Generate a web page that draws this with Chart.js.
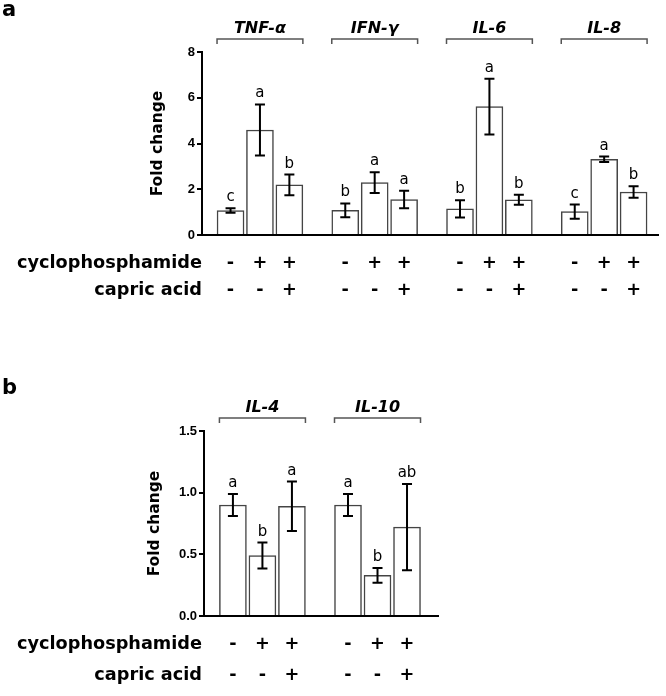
<!DOCTYPE html>
<html>
<head>
<meta charset="utf-8">
<script src="https://cdn.jsdelivr.net/npm/chart.js@4.4.1/dist/chart.umd.min.js"></script>
<style>
  html, body { margin: 0; padding: 0; background: #fff; }
  #wrapA { position: absolute; left: 0; top: 0; width: 666px; height: 330px; }
  #wrapB { position: absolute; left: 0; top: 330px; width: 666px; height: 366px; }
</style>
</head>
<body>
<div id="wrapA"><canvas id="chartA"></canvas></div>
<div id="wrapB"><canvas id="chartB"></canvas></div>
<script>
// ==========================================
// DATA - panel a (pro-inflammatory)
// ==========================================
const genesA = ['TNF-α', 'IFN-γ', 'IL-6', 'IL-8'];
const meansA = [1.07, 4.59, 2.19, 1.08, 2.29, 1.55, 1.14, 5.61, 1.54, 1.02, 3.31, 1.88];
const errA = [0.10, 1.12, 0.45, 0.30, 0.45, 0.38, 0.38, 1.22, 0.22, 0.31, 0.12, 0.25];
const lettersA = ['c', 'a', 'b', 'b', 'a', 'a', 'b', 'a', 'b', 'c', 'a', 'b'];
const ticksA = [0, 2, 4, 6, 8];

// DATA - panel b (anti-inflammatory)
const genesB = ['IL-4', 'IL-10'];
const meansB = [0.90, 0.49, 0.89, 0.90, 0.33, 0.72];
const errB = [0.09, 0.105, 0.20, 0.09, 0.06, 0.35];
const lettersB = ['a', 'b', 'a', 'a', 'b', 'ab'];
const ticksB = [0.0, 0.5, 1.0, 1.5];

// treatment rows under each group
const rowNames = ['cyclophosphamide', 'capric acid'];
const cyclo = ['-', '+', '+'];
const capric = ['-', '-', '+'];

const FONT = '"DejaVu Sans", sans-serif';
const GROUP_STEP = 3.9; // distance between groups, in bar widths

// ==========================================
// PLUGIN: error bars, letters, brackets, treatment rows
// ==========================================
const extrasPlugin = {
    id: 'extras',
    afterDatasetsDraw(chart) {
        const cfg = chart.options.plugins.extras;
        const ctx = chart.ctx;
        const yScale = chart.scales.y;
        const bars = chart.getDatasetMeta(0).data;

        ctx.save();
        ctx.strokeStyle = '#000';
        ctx.lineWidth = 2;
        bars.forEach((bar, k) => {
            const yTop = yScale.getPixelForValue(cfg.means[k] + cfg.errs[k]);
            const yBot = yScale.getPixelForValue(cfg.means[k] - cfg.errs[k]);
            ctx.beginPath();
            ctx.moveTo(bar.x, yTop); ctx.lineTo(bar.x, yBot);
            ctx.moveTo(bar.x - 5, yTop); ctx.lineTo(bar.x + 5, yTop);
            ctx.moveTo(bar.x - 5, yBot); ctx.lineTo(bar.x + 5, yBot);
            ctx.stroke();

            ctx.fillStyle = '#000';
            ctx.font = '15px ' + FONT;
            ctx.textAlign = 'center';
            ctx.textBaseline = 'alphabetic';
            ctx.fillText(cfg.letters[k], bar.x, yTop - 7);
        });
        ctx.restore();
    },
    afterDraw(chart) {
        const cfg = chart.options.plugins.extras;
        const ctx = chart.ctx;
        const area = chart.chartArea;
        const bars = chart.getDatasetMeta(0).data;

        ctx.save();
        // panel letter
        ctx.fillStyle = '#000';
        ctx.font = 'bold 21px ' + FONT;
        ctx.textAlign = 'left';
        ctx.textBaseline = 'alphabetic';
        ctx.fillText(cfg.panel, 2, cfg.panelY);

        // brackets + gene names
        const by = area.top - 13;
        cfg.genes.forEach((g, gi) => {
            const b0 = bars[gi * 3], b2 = bars[gi * 3 + 2];
            const l = b0.x - b0.width / 2, r = b2.x + b2.width / 2;
            ctx.strokeStyle = '#555';
            ctx.lineWidth = 1.5;
            ctx.beginPath();
            ctx.moveTo(l, by + 5); ctx.lineTo(l, by); ctx.lineTo(r, by); ctx.lineTo(r, by + 5);
            ctx.stroke();

            ctx.fillStyle = '#000';
            ctx.font = 'italic bold 16px ' + FONT;
            ctx.textAlign = 'center';
            ctx.fillText(g, (l + r) / 2, area.top - 19);
        });

        // treatment rows
        const rowY = [area.bottom + 33, area.bottom + cfg.row2];
        ctx.font = 'bold 17.7px ' + FONT;
        ctx.textAlign = 'right';
        rowNames.forEach((name, ri) => ctx.fillText(name, 202, rowY[ri]));
        ctx.textAlign = 'center';
        bars.forEach((bar, k) => {
            ctx.fillText(cyclo[k % 3], bar.x, rowY[0]);
            ctx.fillText(capric[k % 3], bar.x, rowY[1]);
        });
        ctx.restore();
    }
};

function makeChart(id, opt) {
    const points = opt.means.map((v, k) => ({ x: Math.floor(k / 3) * GROUP_STEP + (k % 3), y: v }));
    return new Chart(document.getElementById(id), {
        type: 'bar',
        data: {
            datasets: [{
                data: points,
                backgroundColor: '#fff',
                borderColor: '#444',
                borderWidth: 1.5,
                barThickness: 27
            }]
        },
        options: {
            responsive: true,
            maintainAspectRatio: false,
            animation: false,
            layout: { padding: opt.padding },
            scales: {
                x: {
                    type: 'linear',
                    offset: false,
                    min: opt.xMin,
                    max: opt.xMax,
                    ticks: { display: false },
                    grid: { display: false },
                    border: { display: true, color: '#000', width: 2 }
                },
                y: {
                    min: opt.ticks[0],
                    max: opt.ticks[opt.ticks.length - 1],
                    afterBuildTicks: s => { s.ticks = opt.ticks.map(v => ({ value: v })); },
                    afterFit: s => { s.width = opt.yWidth; },
                    ticks: {
                        color: '#000',
                        padding: 2,
                        font: { family: '"Liberation Sans", Arial, sans-serif', size: 13, weight: 'bold' },
                        callback: opt.fmt
                    },
                    grid: { display: true, drawOnChartArea: false, drawTicks: true, tickLength: 5, color: '#000', lineWidth: 2 },
                    border: { color: '#000', width: 2 },
                    title: {
                        display: true,
                        text: 'Fold change',
                        color: '#000',
                        padding: { top: 4, bottom: 4 },
                        font: { family: FONT, size: 15.5, weight: 'bold' }
                    }
                }
            },
            plugins: {
                legend: { display: false },
                tooltip: { enabled: false },
                extras: opt.extras
            }
        },
        plugins: [extrasPlugin]
    });
}

makeChart('chartA', {
    means: meansA,
    ticks: ticksA,
    fmt: v => String(v),
    padding: { left: 145, right: 8, top: 52, bottom: 87 },
    yWidth: 57,
    xMin: -0.97,
    xMax: 3 * GROUP_STEP + 2 + 0.83,
    extras: { panel: 'a', panelY: 16, genes: genesA, means: meansA, errs: errA, letters: lettersA, row2: 60 }
});

makeChart('chartB', {
    means: meansB,
    ticks: ticksB,
    fmt: v => v.toFixed(1),
    padding: { left: 142, right: 228, top: 101, bottom: 72 },
    yWidth: 62,
    xMin: -0.98,
    xMax: GROUP_STEP + 2 + 1.05,
    extras: { panel: 'b', panelY: 64, genes: genesB, means: meansB, errs: errB, letters: lettersB, row2: 64 }
});
</script>
</body>
</html>
